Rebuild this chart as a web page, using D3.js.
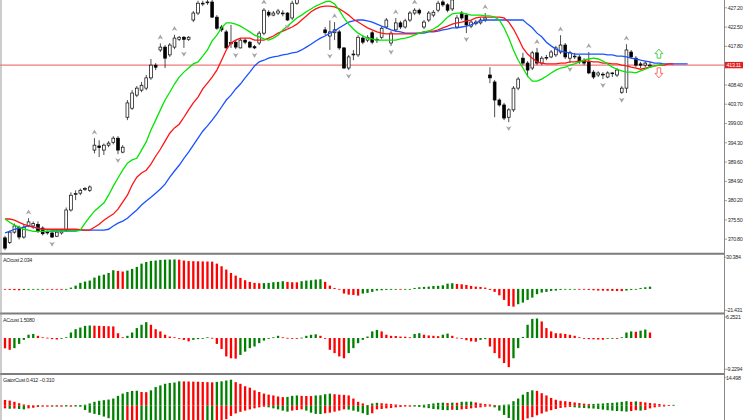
<!DOCTYPE html>
<html>
<head>
<meta charset="utf-8">
<script src="https://cdn.jsdelivr.net/npm/d3@7"></script>
<style>
body { margin: 0; background: #fff; }
svg { display: block; font-family: "Liberation Sans", Arial, sans-serif; }
.lbl { font-size: 5.4px; letter-spacing: -0.3px; fill: #2a2a2a; }
</style>
</head>
<body>
<script>

// ---- candles (price) ----
var opens = [371.0,369.9,372.4,373.6,371.2,374.0,373.9,374.3,373.4,372.4,
372.2,371.4,372.2,372.9,377.8,381.6,381.9,382.8,382.6,392.4,
393.4,392.4,393.6,394.3,395.3,391.9,400.4,402.6,405.8,407.0,
407.5,410.0,413.1,416.8,417.5,415.6,417.5,419.4,419.9,419.4,
424.1,425.8,428.0,428.3,428.5,424.8,422.4,421.2,418.3,418.7,
417.3,419.2,418.7,417.6,418.5,420.9,426.0,425.3,425.8,425.6,
425.8,424.6,428.2,429.4,431.0,432.5,431.5,430.8,421.7,420.2,
421.0,421.2,417.3,412.4,415.6,415.6,419.7,419.2,421.0,419.2,
419.9,422.4,418.5,421.7,423.4,422.4,424.1,425.8,426.5,422.4,
424.1,425.3,426.5,428.5,427.8,426.8,422.4,425.8,425.3,422.6,
423.2,423.4,424.1,410.7,409.0,404.6,403.4,400.4,402.2,407.5,
414.8,413.6,412.4,416.1,413.6,414.8,415.1,415.6,416.3,418.0,
414.8,415.1,415.1,414.3,413.9,411.4,410.7,410.9,410.2,411.2,
410.7,406.5,407.5,416.3,414.8,413.4,413.1,412.9];

var highs = [371.5,372.8,374.5,374.0,374.2,375.8,375.0,375.0,373.8,372.8,
372.4,372.8,373.0,378.4,382.1,382.6,383.0,383.4,383.8,395.3,
394.8,394.0,394.6,395.8,395.8,393.6,404.6,407.0,408.0,409.0,
410.7,414.6,413.6,418.4,418.0,418.5,420.5,420.2,420.2,420.2,
426.3,428.8,428.8,429.0,429.0,425.3,422.9,421.7,422.9,419.2,
419.7,419.7,419.0,418.0,421.4,427.0,426.5,426.3,426.8,426.5,
426.0,428.8,430.0,432.0,433.5,433.8,432.4,431.6,422.4,424.0,
423.6,421.7,417.5,415.6,416.8,420.4,420.4,420.4,421.4,419.9,
422.6,424.6,421.4,424.6,423.9,424.4,426.3,427.0,426.9,424.1,
426.3,426.5,428.8,429.0,428.2,429.5,425.3,426.3,425.6,424.1,
424.1,424.6,425.8,412.6,409.5,405.0,403.9,402.6,408.0,410.2,
416.1,414.1,416.6,417.3,415.3,415.6,416.8,417.8,420.4,418.5,
416.6,416.1,415.6,414.8,416.3,411.9,411.6,411.4,411.6,411.4,
412.4,408.0,418.2,416.8,415.3,413.9,414.1,413.9];

var lows = [368.0,369.5,372.0,370.6,370.8,373.6,373.2,372.2,371.6,371.8,
371.0,371.2,371.8,372.6,377.4,380.2,381.4,382.4,382.2,391.6,
390.7,391.2,393.1,393.8,391.4,391.6,399.7,402.2,405.3,406.5,
407.0,409.5,411.9,416.3,412.4,415.1,417.0,419.0,417.3,419.0,
423.6,425.3,427.5,427.8,424.6,421.7,421.2,417.1,417.3,417.0,
417.2,418.2,417.2,417.0,418.0,420.4,424.8,425.0,425.3,425.0,
423.9,424.1,427.8,429.0,430.5,430.8,429.8,429.4,420.4,416.8,
419.2,416.8,412.2,411.9,414.3,415.1,418.2,418.7,418.2,418.5,
419.4,421.9,417.8,421.2,421.9,422.0,423.6,425.3,425.3,421.9,
423.6,424.8,426.0,427.3,426.0,426.3,422.0,424.1,420.9,422.1,
422.8,423.0,423.6,408.7,400.4,403.0,399.7,399.2,401.7,407.0,
413.1,410.2,411.9,413.1,413.1,414.3,414.8,415.1,415.8,414.6,
413.6,414.6,413.4,413.1,410.9,409.7,410.2,409.7,409.9,410.2,
410.2,406.1,406.3,414.6,412.6,412.4,412.6,412.6];

var closes = [368.5,372.4,373.9,371.2,373.6,374.9,374.5,372.6,372.0,372.2,
371.2,372.4,372.6,377.8,381.4,381.8,382.6,383.0,383.4,393.6,
393.0,393.6,394.1,395.3,392.4,393.1,403.9,406.3,407.5,408.2,
410.0,413.1,412.6,417.5,414.8,418.0,419.7,419.9,419.4,419.9,
425.8,428.2,428.2,428.5,424.8,422.1,421.7,417.3,418.6,417.5,
419.2,418.7,417.5,417.3,420.9,426.5,425.3,425.8,426.3,425.8,
424.1,428.2,429.2,431.0,432.5,431.5,430.2,429.8,421.0,421.2,
421.7,417.3,412.4,415.1,415.8,419.9,418.7,419.9,418.7,419.4,
422.1,424.1,420.9,423.4,422.4,423.9,425.8,426.5,425.8,423.6,
425.8,426.0,428.2,427.8,426.5,429.0,424.6,424.6,422.9,423.6,
423.6,424.1,424.6,410.0,404.6,403.4,400.2,402.2,407.5,409.7,
413.6,411.9,416.1,413.6,414.8,415.0,416.3,417.3,418.0,415.1,
416.1,415.3,413.9,413.6,411.2,410.2,411.2,410.7,411.2,411.2,
411.9,407.5,416.8,415.1,413.1,413.1,413.6,413.11];

// ---- alligator lines (price, already shifted forward) ----
var lips = [375.6,374.8,374.1,373.6,373.1,372.9,372.6,372.6,372.6,372.6,
372.6,372.6,372.6,372.6,372.6,372.6,372.9,374.6,376.1,377.5,
378.5,379.5,381.4,383.6,385.6,387.5,389.2,390.0,390.4,392.4,
394.4,397.3,399.7,402.2,404.6,406.5,408.5,410.2,411.4,412.4,
413.4,413.9,415.3,416.8,419.0,420.4,422.2,423.4,423.4,423.1,
422.6,421.9,421.2,420.4,420.0,419.5,419.2,419.7,420.4,421.7,
422.6,423.6,424.6,425.3,426.1,426.8,427.5,428.0,428.5,428.7,
428.0,426.5,424.6,423.1,421.9,420.9,420.2,419.7,419.5,419.2,
419.2,419.2,419.2,419.2,419.5,419.7,420.0,420.4,420.9,421.2,
421.4,421.9,422.6,423.6,424.8,425.6,425.8,425.8,425.6,425.3,
425.3,425.3,425.1,425.1,424.8,424.1,422.2,419.7,416.8,414.3,
412.4,410.4,409.2,409.2,409.7,410.4,411.2,411.9,412.4,412.6,
413.1,413.4,413.9,414.3,414.6,414.8,414.6,414.1,413.4,412.6,
412.1,411.7,411.4,411.4,411.2,411.7,412.1,412.6,412.9,413.1,
413.4];

var teeth = [375.6,375.6,375.3,374.8,374.3,373.9,373.6,373.4,373.1,373.1,
373.1,373.1,373.1,373.1,373.1,373.1,373.0,372.9,372.9,373.6,
374.3,375.3,376.1,376.8,378.0,379.7,381.4,383.9,385.8,386.8,
387.5,389.0,390.9,392.6,394.6,396.5,397.8,398.7,400.4,402.2,
403.9,405.3,407.3,408.7,410.2,411.9,414.3,416.8,418.5,419.2,
419.7,419.7,419.7,419.2,419.2,419.2,419.7,420.2,420.9,421.4,
421.9,422.4,423.1,424.1,425.1,426.1,426.8,427.3,427.5,427.5,
427.3,426.8,426.1,425.3,424.3,423.6,422.9,422.2,421.7,421.2,
420.9,420.7,420.7,420.7,420.7,420.7,420.7,420.7,420.9,421.2,
421.4,421.4,421.7,422.2,422.6,423.1,423.4,423.6,423.9,424.1,
424.6,424.8,424.8,424.8,424.8,424.8,424.6,423.6,421.9,419.7,
417.3,415.8,414.8,413.9,413.6,413.4,413.4,413.4,413.6,413.6,
413.9,413.9,414.1,414.1,414.1,413.9,413.9,413.6,413.6,413.4,
413.4,413.1,412.9,412.6,412.4,412.1,412.4,412.6,412.9,413.1,
413.1,413.4,413.4];

var jaw = [372.2,372.6,373.1,373.4,373.6,373.9,373.6,373.4,373.1,373.0,
372.9,372.9,372.9,372.9,372.9,372.9,372.9,372.9,372.9,372.9,
372.9,372.9,373.1,373.9,374.6,375.1,375.8,376.8,377.8,379.0,
380.0,380.9,381.9,382.9,384.1,385.8,387.3,388.7,390.4,391.9,
393.6,395.3,397.0,398.3,399.7,401.2,402.9,404.6,405.8,407.3,
408.5,410.0,411.4,412.9,413.9,414.3,414.8,415.1,415.3,415.6,
415.8,416.1,416.3,416.8,417.5,418.2,419.0,419.7,420.2,420.9,
421.4,422.2,422.9,423.6,423.9,424.1,424.1,423.9,423.6,423.1,
422.6,422.2,421.7,421.4,421.2,420.9,420.9,420.9,420.9,420.9,
421.2,421.2,421.4,421.7,421.9,422.2,422.2,422.4,422.6,422.9,
423.4,423.9,424.1,424.1,424.1,424.1,424.1,424.1,424.1,424.1,
424.1,423.1,422.2,420.9,420.0,418.7,417.8,417.0,416.5,416.3,
416.1,415.8,415.8,415.8,415.8,415.8,415.8,415.8,415.6,415.6,
415.3,415.3,415.1,414.8,414.6,414.3,414.1,413.9,413.6,413.6,
413.4,413.4,413.4,413.4,413.4,413.4];

// ---- fractals (bar index) ----
var fractalUp = [5,19,33,36,55,70,83,87,102,113,118,124,132];
var fractalDown = [10,24,38,49,53,60,69,73,82,98,107,120,127,131];

// ---- oscillators ----
var ao = [-0.6,-0.9,-1.1,-1.2,-1.0,-0.8,-0.6,-0.5,-0.4,-0.5,
-0.6,-0.7,-0.8,-0.3,1.2,3.0,5.5,6.7,7.6,10.3,
12.1,13.0,14.5,17.0,16.4,15.8,16.7,18.2,20.0,23.0,
24.5,25.5,25.8,26.4,26.6,26.7,26.8,26.6,25.8,25.3,
25.2,25.1,25.0,24.9,24.8,23.0,20.6,17.6,14.5,12.1,
10.0,7.9,6.4,5.5,5.2,5.3,5.5,6.1,6.4,7.0,
6.4,6.1,6.0,7.0,7.6,7.9,8.5,8.8,6.4,3.0,
0.9,-0.6,-4.2,-5.2,-5.5,-6.1,-4.2,-3.6,-2.7,-1.5,
-1.2,-0.9,-0.8,-0.6,-0.7,-0.3,0.0,0.9,1.5,1.8,
2.1,2.7,2.8,3.3,4.8,5.2,4.5,4.2,3.6,2.7,
2.1,1.8,1.2,-0.9,-2.7,-5.8,-10.0,-15.5,-16.1,-13.9,
-12.4,-10.0,-7.9,-4.8,-3.3,-2.7,-1.8,-1.5,-0.9,-0.6,
-0.3,-0.1,-0.3,-0.6,-0.9,-1.2,-1.5,-1.6,-1.7,-1.8,
-1.9,-2.0,-1.5,-0.9,-0.3,0.9,1.5,2.034];

var ac = [-2.8,-3.2,-2.75,-1.6,-0.5,0.9,1.1,0.6,0.2,0.1,
-0.3,-0.4,-0.1,0.2,1.5,2.4,2.85,3.3,3.4,3.35,
3.3,3.25,3.2,3.15,1.3,0.2,0.6,1.5,2.7,3.6,
4.3,3.6,2.4,1.8,0.9,0.4,0.2,-0.05,-0.5,-0.9,
-0.5,-0.3,0.0,0.2,0.05,-1.6,-3.0,-5.0,-5.5,-5.6,
-4.6,-3.7,-2.75,-2.3,-1.4,-0.7,-0.05,0.2,0.6,0.2,
0.05,-0.05,-0.1,0.1,0.6,0.87,1.0,0.6,-0.05,-3.2,
-4.1,-5.0,-5.5,-4.1,-2.75,-1.4,-0.5,0.4,1.8,2.2,
1.8,0.9,0.6,0.55,0.4,0.35,0.2,1.1,1.3,0.9,
0.7,0.6,0.5,0.9,1.2,0.6,0.1,0.0,-0.6,-0.9,
-1.0,-0.5,-0.3,-2.3,-4.1,-5.5,-6.8,-7.9,-5.5,-2.75,
0.3,3.6,5.2,5.3,4.5,2.7,1.8,1.3,1.25,1.1,
0.87,0.6,0.2,0.0,-0.3,-0.35,-0.4,-0.45,-0.1,0.0,
-0.05,0.2,1.5,1.8,1.7,2.0,2.3,1.508];

var gatorUp = [2.8,2.5,1.9,1.2,0.6,0.2,0.1,0.2,0.1,0.05,
0.1,0.15,0.1,0.2,0.1,0.2,0.3,0.5,1.1,1.9,
2.4,2.7,3.0,3.5,4.8,5.9,6.7,7.2,7.3,6.7,
6.6,7.5,9.1,9.9,10.7,11.1,11.3,11.9,11.85,11.8,
11.75,11.7,11.6,11.5,11.4,11.6,11.9,12.3,12.7,11.5,
10.7,9.5,8.8,7.5,6.7,5.9,5.4,5.0,4.5,4.2,
4.3,4.8,5.0,4.8,4.75,4.7,5.0,5.1,5.6,5.9,
5.6,5.4,5.3,5.0,3.5,1.9,1.1,0.3,1.1,1.4,
1.2,1.0,0.8,0.6,0.3,0.2,0.1,0.2,0.3,0.5,
0.8,1.1,1.4,1.5,1.3,1.5,1.4,1.9,1.95,2.0,
1.6,1.1,0.8,0.6,0.3,0.1,0.5,0.6,2.2,3.5,
5.4,6.7,7.5,7.2,6.1,5.0,3.8,2.9,2.4,2.2,
1.9,1.6,1.3,1.0,0.8,0.85,1.0,1.1,1.3,1.4,
1.6,1.9,2.2,1.9,2.1,1.9,1.6,1.3,1.1,0.8,
0.5,0.3,0.412];

var gatorDown = [1.3,1.5,1.4,1.6,1.8,1.3,1.0,0.6,0.4,0.3,
0.3,0.2,0.2,0.3,0.2,0.3,0.5,2.1,3.4,4.0,
4.5,5.3,6.1,7.2,7.9,8.1,7.9,7.2,7.0,7.4,
7.9,8.5,9.0,9.6,10.0,10.2,10.7,11.3,11.0,10.3,
9.5,8.7,8.2,8.4,8.8,8.5,7.9,6.6,5.0,3.8,
3.0,2.4,1.8,1.3,0.8,0.5,0.8,1.3,1.8,2.4,
2.9,2.4,2.1,1.8,2.4,3.4,4.0,4.1,3.7,3.4,
2.9,2.4,1.8,1.9,2.4,2.9,3.7,4.5,3.7,1.8,
1.6,1.3,1.1,0.8,0.6,0.3,0.2,0.4,0.6,0.9,
1.2,1.6,1.8,2.1,2.2,2.0,2.1,1.8,1.6,1.3,
1.0,0.8,0.5,0.3,0.8,2.4,4.5,6.0,7.5,7.8,
7.0,6.2,5.6,4.7,3.8,2.9,2.2,1.6,1.1,0.8,
0.6,0.8,1.0,1.1,1.3,1.4,1.6,1.9,2.2,2.4,
2.6,2.7,2.9,2.6,2.2,2.4,2.1,1.3,0.8,0.5,
0.31];

// ---- axis labels ----
var priceTicks = [427.2, 422.5, 417.8, 408.4, 403.7, 399.0, 394.3, 389.6, 384.9, 380.2, 375.5, 370.8];
var lastPrice = 413.11;
var aoRange = [-21.431, 30.384];
var acRange = [-9.2294, 6.2521];
var gatorMax = 14.498;

var W = 752, H = 420, axisX = 724;
var green = "#008000", red = "#ff0000";

var svg = d3.select("body").append("svg").attr("width", W).attr("height", H);

var x = d3.scaleLinear().domain([0, 137]).range([5, 650]);
var y = d3.scaleLinear().domain([370.8, 427.2]).range([238.7, 7.3]);
var yAO = d3.scaleLinear().domain(aoRange).range([312.5, 255.5]);
var yAC = d3.scaleLinear().domain(acRange).range([372, 315]);
var yG = d3.scaleLinear().domain([-gatorMax, gatorMax]).range([435.4, 376]);

svg.append("defs").append("clipPath").attr("id", "main")
  .append("rect").attr("x", 0).attr("y", 0).attr("width", axisX).attr("height", 252);

var main = svg.append("g").attr("clip-path", "url(#main)");

// current price line
main.append("line")
  .attr("x1", 0).attr("x2", axisX)
  .attr("y1", y(lastPrice)).attr("y2", y(lastPrice))
  .attr("stroke", "#e84545").attr("stroke-width", 0.9);

var bars = d3.range(opens.length);

// wicks
main.selectAll(".wick").data(bars).enter().append("line")
  .attr("class", "wick")
  .attr("x1", d => x(d)).attr("x2", d => x(d))
  .attr("y1", d => y(highs[d])).attr("y2", d => y(lows[d]))
  .attr("stroke", "#222").attr("stroke-width", 0.8);

// bodies
main.selectAll(".body").data(bars).enter().append("rect")
  .attr("class", "body")
  .attr("x", d => x(d) - 1.4).attr("width", 2.8)
  .attr("y", d => y(Math.max(opens[d], closes[d])))
  .attr("height", d => Math.max(0.8, Math.abs(y(opens[d]) - y(closes[d]))))
  .attr("fill", d => closes[d] >= opens[d] ? "#fff" : "#000")
  .attr("stroke", "#000").attr("stroke-width", 0.7);

// alligator
var line = d3.line().x((d, i) => x(i)).y(d => y(d));
[[jaw, "#1a52ff"], [teeth, "#ff1414"], [lips, "#00e600"]].forEach(function (s) {
  main.append("path").datum(s[0])
    .attr("d", line).attr("fill", "none")
    .attr("stroke", s[1]).attr("stroke-width", 1.3);
});

// fractals
main.selectAll(".fup").data(fractalUp).enter().append("path")
  .attr("class", "fup")
  .attr("transform", d => "translate(" + x(d) + "," + (y(highs[d]) - 6) + ")")
  .attr("d", "M0,-2.8L2.8,2.2L0,0.8L-2.8,2.2Z")
  .attr("fill", "#a6a6a6");
main.selectAll(".fdn").data(fractalDown).enter().append("path")
  .attr("class", "fdn")
  .attr("transform", d => "translate(" + x(d) + "," + (y(lows[d]) + 6) + ")")
  .attr("d", "M0,2.8L2.8,-2.2L0,-0.8L-2.8,-2.2Z")
  .attr("fill", "#a6a6a6");

// signal arrows at the right end
var sigX = x(138.9);
main.append("path")
  .attr("d", "M" + sigX + "," + y(417.0) + "l4,4.5h-2.2v4.5h-3.6v-4.5h-2.2z")
  .attr("fill", "#fff").attr("stroke", "#3cc83c").attr("stroke-width", 0.9);
main.append("path")
  .attr("d", "M" + sigX + "," + y(410.0) + "l4,-4.5h-2.2v-5.5h-3.6v5.5h-2.2z")
  .attr("fill", "#fff").attr("stroke", "#ff5a5a").attr("stroke-width", 0.9);

// ---- histograms ----
function colorUp(arr) {
  return arr.map((v, i) => (i > 0 && v > arr[i - 1]) ? green : red);
}
var bw = 2.3;

var aoCol = colorUp(ao);
svg.selectAll(".ao").data(ao).enter().append("rect")
  .attr("x", (d, i) => x(i) - bw / 2).attr("width", bw)
  .attr("y", d => Math.min(yAO(d), yAO(0)))
  .attr("height", d => Math.max(0.8, Math.abs(yAO(d) - yAO(0))))
  .attr("fill", (d, i) => aoCol[i]);

var acCol = colorUp(ac);
svg.selectAll(".ac").data(ac).enter().append("rect")
  .attr("x", (d, i) => x(i) - bw / 2).attr("width", bw)
  .attr("y", d => Math.min(yAC(d), yAC(0)))
  .attr("height", d => Math.max(0.8, Math.abs(yAC(d) - yAC(0))))
  .attr("fill", (d, i) => acCol[i]);

var guCol = colorUp(gatorUp);
svg.selectAll(".gu").data(gatorUp).enter().append("rect")
  .attr("x", (d, i) => x(i) - bw / 2).attr("width", bw)
  .attr("y", d => yG(d))
  .attr("height", d => Math.max(0.8, yG(0) - yG(d)))
  .attr("fill", (d, i) => guCol[i]);

var gdCol = colorUp(gatorDown);
svg.selectAll(".gd").data(gatorDown).enter().append("rect")
  .attr("x", (d, i) => x(i) - bw / 2).attr("width", bw)
  .attr("y", yG(0))
  .attr("height", d => Math.max(0.8, yG(-d) - yG(0)))
  .attr("fill", (d, i) => gdCol[i]);

// ---- frame ----
[253.7, 313.4, 373.9].forEach(function (sy) {
  svg.append("line").attr("x1", 0).attr("x2", axisX).attr("y1", sy).attr("y2", sy)
    .attr("stroke", "#7d7d7d").attr("stroke-width", 2);
});
svg.append("line").attr("x1", axisX + 0.5).attr("x2", axisX + 0.5).attr("y1", 0).attr("y2", H)
  .attr("stroke", "#8a8a8a").attr("stroke-width", 1);
svg.append("line").attr("x1", 1).attr("x2", 1).attr("y1", 0).attr("y2", H)
  .attr("stroke", "#9a9a9a").attr("stroke-width", 1);

// price axis
var ax = svg.append("g").attr("transform", "translate(" + (axisX + 0.5) + ",0)")
  .call(d3.axisRight(y).tickValues(priceTicks).tickSize(2.5).tickPadding(0.8)
    .tickFormat(d3.format(".2f")));
ax.select(".domain").remove();
ax.selectAll("line").attr("stroke", "#666").attr("stroke-width", 0.6);
ax.selectAll("text").attr("class", "lbl").attr("font-family", null).attr("font-size", null);

// current price tag
svg.append("rect").attr("x", axisX + 1).attr("y", y(lastPrice) - 3.2)
  .attr("width", 18).attr("height", 6.4).attr("fill", "#e02020");
svg.append("text").attr("class", "lbl").attr("x", axisX + 2.5).attr("y", y(lastPrice) + 1.9)
  .style("fill", "#fff").text(d3.format(".2f")(lastPrice));

// sub-window scale labels
var sub = [
  [aoRange[1], yAO(aoRange[1]) + 3.5, "30.384"],
  [aoRange[0], yAO(aoRange[0]) - 0.5, "-21.431"],
  [acRange[1], yAC(acRange[1]) + 3.8, "6.2521"],
  [acRange[0], yAC(acRange[0]) - 1, "-9.2294"],
  [gatorMax, yG(gatorMax) + 3.5, "14.498"]
];
svg.selectAll(".sub").data(sub).enter().append("text")
  .attr("class", "lbl").attr("x", axisX + 2).attr("y", d => d[1]).text(d => d[2]);
sub.forEach(function (d) {
  svg.append("line").attr("x1", axisX + 0.5).attr("x2", axisX + 2.5)
    .attr("y1", d[1] - 1.8).attr("y2", d[1] - 1.8).attr("stroke", "#666").attr("stroke-width", 0.6);
});

// indicator titles
svg.append("text").attr("class", "lbl").attr("x", 3).attr("y", 262)
  .text("AOcust " + d3.format(".3f")(ao[ao.length - 1]));
svg.append("text").attr("class", "lbl").attr("x", 3).attr("y", 322)
  .text("ACcust " + d3.format(".4f")(ac[ac.length - 1]));
svg.append("text").attr("class", "lbl").attr("x", 3).attr("y", 382)
  .text("GatorCust " + d3.format(".3f")(gatorUp[gatorUp.length - 1]) + " " +
        d3.format(".3f")(-gatorDown[gatorDown.length - 1]));

</script>
</body>
</html>
